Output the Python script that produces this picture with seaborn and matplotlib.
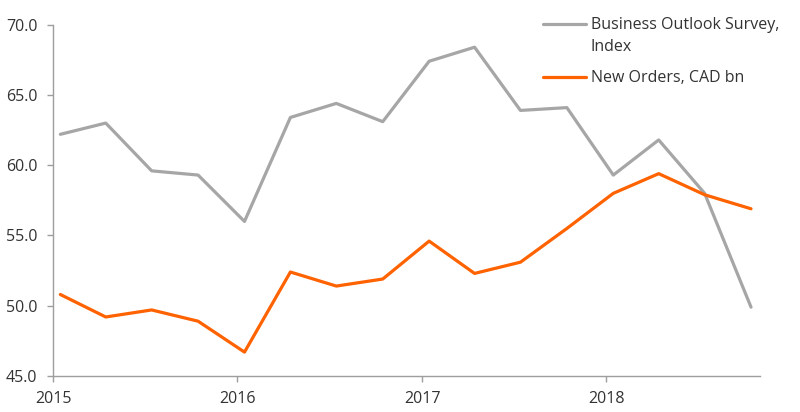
import pandas as pd
import seaborn as sns
import matplotlib.pyplot as plt
import matplotlib.dates as mdates
from matplotlib.lines import Line2D

# quarterly observations (mid-month of each quarter's first month)
quarters = pd.date_range("2015-01-15", periods=16, freq=pd.DateOffset(months=3))

business_outlook = [62.2, 63.0, 59.6, 59.3, 56.0, 63.4, 64.4, 63.1,
                    67.4, 68.4, 63.9, 64.1, 59.3, 61.8, 58.0, 49.9]
new_orders = [50.8, 49.2, 49.7, 48.9, 46.7, 52.4, 51.4, 51.9,
              54.6, 52.3, 53.1, 55.5, 58.0, 59.4, 57.9, 56.9]

series_names = ["Business Outlook Survey,\nIndex", "New Orders, CAD bn"]
colors = ["#A6A6A6", "#FF6200"]
y_ticks = [45.0, 50.0, 55.0, 60.0, 65.0, 70.0]

df = pd.DataFrame({
    "date": list(quarters) * 2,
    "value": business_outlook + new_orders,
    "series": [series_names[0]] * 16 + [series_names[1]] * 16,
})

sns.set_style("white")
plt.rcParams["font.family"] = ["Open Sans", "DejaVu Sans"]

fig = plt.figure(figsize=(8, 4.12), dpi=100)
ax = fig.add_axes([0.0666, 0.0874, 0.9825 - 0.0666 - 0.033, 0.940 - 0.0874])

sns.lineplot(data=df, x="date", y="value", hue="series",
             palette=dict(zip(series_names, colors)), linewidth=2.3,
             legend=False, ax=ax)

ax.set_xlim(pd.Timestamp("2015-01-01"), pd.Timestamp("2018-11-01"))
ax.set_ylim(45, 70)
ax.set_yticks(y_ticks)
ax.set_yticklabels([f"{v:.1f}" for v in y_ticks])
ax.xaxis.set_major_locator(mdates.YearLocator())
ax.xaxis.set_major_formatter(mdates.DateFormatter("%Y"))
ax.set_xlabel("")
ax.set_ylabel("")

for side in ["top", "right"]:
    ax.spines[side].set_visible(False)
for side in ["left", "bottom"]:
    ax.spines[side].set_color("#9E9E9E")
    ax.spines[side].set_linewidth(1.0)

ax.tick_params(axis="both", direction="out", length=4.5, width=1.0,
               color="#9E9E9E", labelcolor="#333333", labelsize=11.5)
ax.tick_params(axis="y", pad=7, left=True)
ax.tick_params(axis="x", pad=6.5, bottom=True)

# legend drawn by hand so the handle lines up with the first text line
for i, (name, col) in enumerate(zip(series_names, colors)):
    y_line = [1 - 24.3 / 412, 1 - 77.3 / 412][i]
    y_text = [1 - 50.7 / 412, 1 - 81.7 / 412][i]
    fig.add_artist(Line2D([543 / 800, 586 / 800], [y_line, y_line],
                          color=col, linewidth=2.3, transform=fig.transFigure))
    fig.text(591 / 800, y_text, name, fontsize=11.5, color="#333333",
             va="baseline", ha="left", linespacing=1.5)

fig.savefig("out.png", dpi=100)
